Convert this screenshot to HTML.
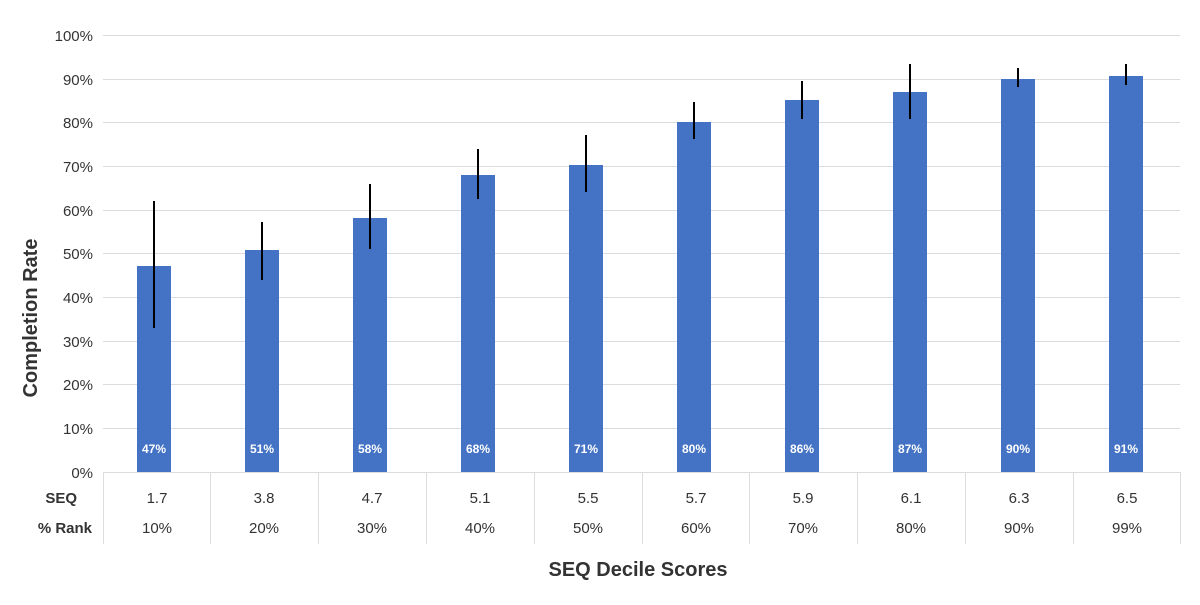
<!DOCTYPE html>
<html><head><meta charset="utf-8"><style>body{margin:0;background:#fff}</style></head><body>
<svg width="1200" height="600" xmlns="http://www.w3.org/2000/svg" font-family="Liberation Sans, sans-serif">
<g stroke="#dcdcdc" stroke-width="1">
<line x1="103" x2="1180" y1="35.5" y2="35.5"/><line x1="103" x2="1180" y1="79.5" y2="79.5"/><line x1="103" x2="1180" y1="122.5" y2="122.5"/><line x1="103" x2="1180" y1="166.5" y2="166.5"/><line x1="103" x2="1180" y1="210.5" y2="210.5"/><line x1="103" x2="1180" y1="253.5" y2="253.5"/><line x1="103" x2="1180" y1="297.5" y2="297.5"/><line x1="103" x2="1180" y1="341.5" y2="341.5"/><line x1="103" x2="1180" y1="384.5" y2="384.5"/><line x1="103" x2="1180" y1="428.5" y2="428.5"/><line x1="103" x2="1180" y1="472.5" y2="472.5"/>
<line x1="103.5" x2="103.5" y1="472" y2="544"/><line x1="210.5" x2="210.5" y1="472" y2="544"/><line x1="318.5" x2="318.5" y1="472" y2="544"/><line x1="426.5" x2="426.5" y1="472" y2="544"/><line x1="534.5" x2="534.5" y1="472" y2="544"/><line x1="642.5" x2="642.5" y1="472" y2="544"/><line x1="749.5" x2="749.5" y1="472" y2="544"/><line x1="857.5" x2="857.5" y1="472" y2="544"/><line x1="965.5" x2="965.5" y1="472" y2="544"/><line x1="1073.5" x2="1073.5" y1="472" y2="544"/><line x1="1180.5" x2="1180.5" y1="472" y2="544"/>
</g>
<g font-size="15" fill="#333" text-anchor="end">
<text x="93" y="41">100%</text><text x="93" y="85">90%</text><text x="93" y="128">80%</text><text x="93" y="172">70%</text><text x="93" y="216">60%</text><text x="93" y="259">50%</text><text x="93" y="303">40%</text><text x="93" y="347">30%</text><text x="93" y="390">20%</text><text x="93" y="434">10%</text><text x="93" y="478">0%</text>
</g>
<g fill="#4472c4">
<rect x="137" y="266" width="34" height="206"/><rect x="245" y="250" width="34" height="222"/><rect x="353" y="218" width="34" height="254"/><rect x="461" y="175" width="34" height="297"/><rect x="569" y="165" width="34" height="307"/><rect x="677" y="122" width="34" height="350"/><rect x="785" y="100" width="34" height="372"/><rect x="893" y="92" width="34" height="380"/><rect x="1001" y="79" width="34" height="393"/><rect x="1109" y="76" width="34" height="396"/>
</g>
<g stroke="#000" stroke-width="2">
<line x1="154" x2="154" y1="201" y2="328"/><line x1="262" x2="262" y1="222" y2="280"/><line x1="370" x2="370" y1="184" y2="249"/><line x1="478" x2="478" y1="149" y2="199"/><line x1="586" x2="586" y1="135" y2="192"/><line x1="694" x2="694" y1="102" y2="139"/><line x1="802" x2="802" y1="81" y2="119"/><line x1="910" x2="910" y1="64" y2="119"/><line x1="1018" x2="1018" y1="68" y2="87"/><line x1="1126" x2="1126" y1="64" y2="85"/>
</g>
<g font-size="12" font-weight="bold" fill="#fff" text-anchor="middle">
<text x="154" y="453">47%</text><text x="262" y="453">51%</text><text x="370" y="453">58%</text><text x="478" y="453">68%</text><text x="586" y="453">71%</text><text x="694" y="453">80%</text><text x="802" y="453">86%</text><text x="910" y="453">87%</text><text x="1018" y="453">90%</text><text x="1126" y="453">91%</text>
</g>
<g font-size="15" fill="#333" text-anchor="middle">
<text x="157" y="503">1.7</text><text x="264" y="503">3.8</text><text x="372" y="503">4.7</text><text x="480" y="503">5.1</text><text x="588" y="503">5.5</text><text x="696" y="503">5.7</text><text x="803" y="503">5.9</text><text x="911" y="503">6.1</text><text x="1019" y="503">6.3</text><text x="1127" y="503">6.5</text>
<text x="157" y="533">10%</text><text x="264" y="533">20%</text><text x="372" y="533">30%</text><text x="480" y="533">40%</text><text x="588" y="533">50%</text><text x="696" y="533">60%</text><text x="803" y="533">70%</text><text x="911" y="533">80%</text><text x="1019" y="533">90%</text><text x="1127" y="533">99%</text>
</g>
<g font-size="15" font-weight="bold" fill="#333" text-anchor="end">
<text x="77" y="503">SEQ</text><text x="92" y="533">% Rank</text>
</g>
<text x="638" y="576" font-size="20" font-weight="bold" fill="#333" text-anchor="middle">SEQ Decile Scores</text>
<text transform="translate(37,318) rotate(-90)" font-size="20" font-weight="bold" fill="#333" text-anchor="middle">Completion Rate</text>
</svg>
</body></html>
